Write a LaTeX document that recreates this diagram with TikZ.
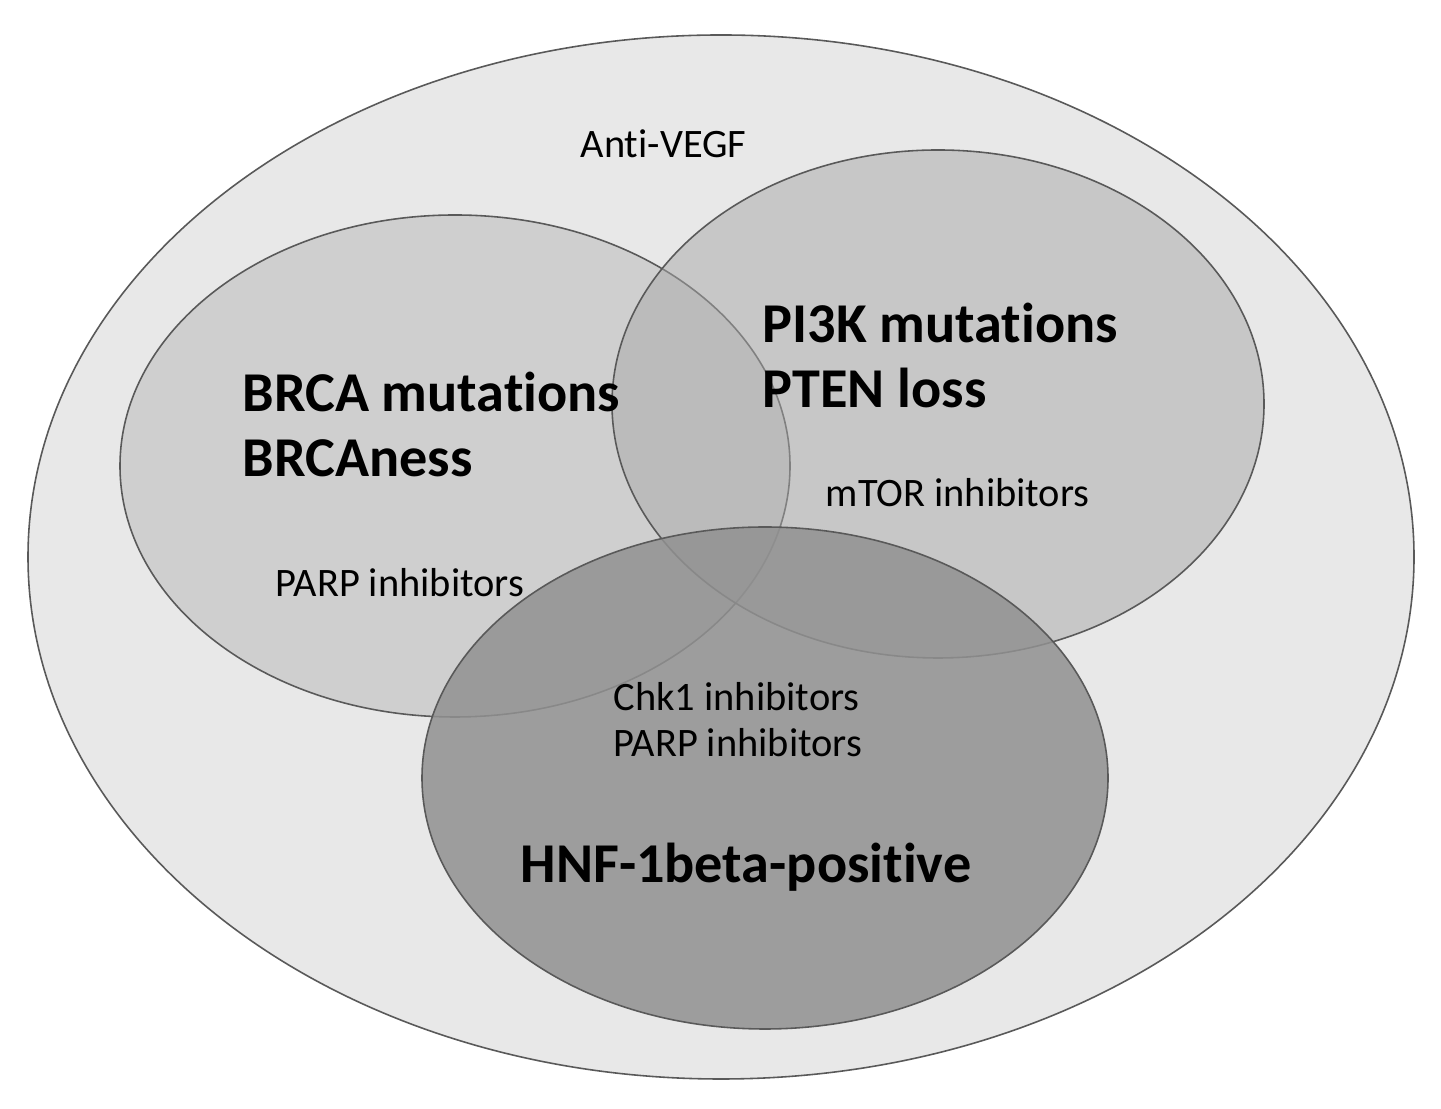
\documentclass[tikz,border=0pt]{standalone}
\usepackage{fontspec}
\setmainfont{Carlito}[Ligatures=NoCommon]
\usepackage{xcolor}
\usepackage{tikz}
\usetikzlibrary{calc}

\tikzset{
    setline/.style={draw=black!65, line width=0.45pt},
    smalltext/.style={inner sep=0pt, anchor=base west, font=\fontsize{11.5}{13}\selectfont},
    bigtext/.style={inner sep=0pt, anchor=base west, font=\fontsize{16.0}{19}\selectfont\bfseries},
}

\begin{document}
\begin{tikzpicture}
        \useasboundingbox [fill=white] (0.0, 0.0) rectangle (14.41, 11.09);

        % outer set
        \draw [setline, fill=black!9] (7.21, 5.52) ellipse [x radius=6.93, y radius=5.22];

        % three overlapping sets
        \draw [setline, fill=black!28, fill opacity=0.5] (4.55, 6.43) ellipse [x radius=3.35, y radius=2.51]; % BRCA
        \draw [setline, fill=black!34, fill opacity=0.5] (9.38, 7.05) ellipse [x radius=3.26, y radius=2.54]; % PI3K
        \draw [setline, fill=black!43, fill opacity=0.85] (7.65, 3.31) ellipse [x radius=3.43, y radius=2.51]; % HNF

        \node [smalltext] (antivegf) at (5.80, 9.51) {Anti-VEGF};

        \node [bigtext] (brca) at (2.42, 6.97) {BRCA mutations};
        \node [bigtext] (brcaness) at (2.42, 6.32) {BRCAness};
        \node [smalltext] (parpleft) at (2.75, 5.12) {PARP inhibitors};

        \node [bigtext] (pik) at (7.62, 7.66) {PI3K mutations};
        \node [bigtext] (pten) at (7.62, 7.01) {PTEN loss};
        \node [smalltext] (mtor) at (8.25, 6.02) {mTOR inhibitors};

        \node [smalltext] (chk) at (6.13, 3.98) {Chk1 inhibitors};
        \node [smalltext] (parpmid) at (6.13, 3.52) {PARP inhibitors};
        \node [bigtext] (hnf) at (5.20, 2.26) {HNF-1beta-positive};
    \end{tikzpicture}
\end{document}
